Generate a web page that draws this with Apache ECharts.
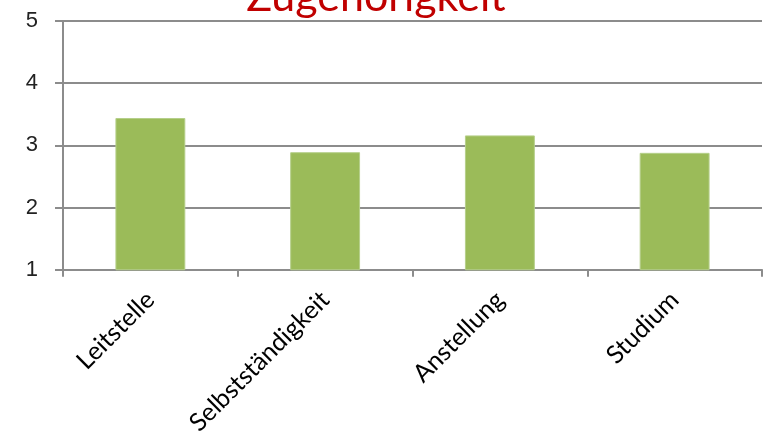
<!DOCTYPE html>
<html>
<head>
<meta charset="utf-8">
<script src="https://cdn.jsdelivr.net/npm/echarts@6/dist/echarts.min.js"></script>
<style>
  html, body { margin: 0; padding: 0; background: #fff; }
  #chart { width: 763px; height: 438px; }
</style>
</head>
<body>
<div id="chart"></div>
<script>
// Chart data
const titleText = 'Zugehörigkeit';
const categories = ['Leitstelle', 'Selbstständigkeit', 'Anstellung', 'Studium'];
const values = [3.44, 2.89, 3.16, 2.88];
const yTicks = [1, 2, 3, 4, 5];

const chart = echarts.init(document.getElementById('chart'));
const axisGray = '#8c8c8c';

chart.setOption({
  animation: false,
  backgroundColor: '#ffffff',
  title: {
    text: titleText,
    left: 371,
    textAlign: 'center',
    top: -29,
    textStyle: {
      color: '#C00000',
      fontFamily: 'Lato',
      fontSize: 43,
      fontWeight: 'normal'
    }
  },
  grid: { left: 63, right: 1, top: 21, bottom: 165, containLabel: false },
  xAxis: {
    type: 'category',
    data: categories,
    boundaryGap: true,
    axisLine: { show: true, lineStyle: { color: axisGray, width: 2 } },
    axisTick: { show: true, length: 7, lineStyle: { color: axisGray, width: 2 } },
    axisLabel: {
      rotate: 45,
      margin: 26,
      interval: 0,
      color: '#000',
      fontFamily: 'Lato',
      fontSize: 25
    }
  },
  yAxis: {
    type: 'value',
    min: yTicks[0],
    max: yTicks[yTicks.length - 1],
    interval: 1,
    axisLine: { show: true, lineStyle: { color: axisGray, width: 2 } },
    axisTick: { show: true, length: 8, lineStyle: { color: axisGray, width: 2 } },
    splitLine: { show: true, lineStyle: { color: axisGray, width: 2 } },
    axisLabel: {
      margin: 25,
      color: '#222',
      fontFamily: 'Liberation Sans Narrow, Liberation Sans',
      fontSize: 22
    }
  },
  series: [{
    type: 'bar',
    data: values,
    barWidth: '40%',
    itemStyle: { color: '#9BBB59', borderColor: '#b5cf8a', borderWidth: 1 }
  }]
});
</script>
</body>
</html>
